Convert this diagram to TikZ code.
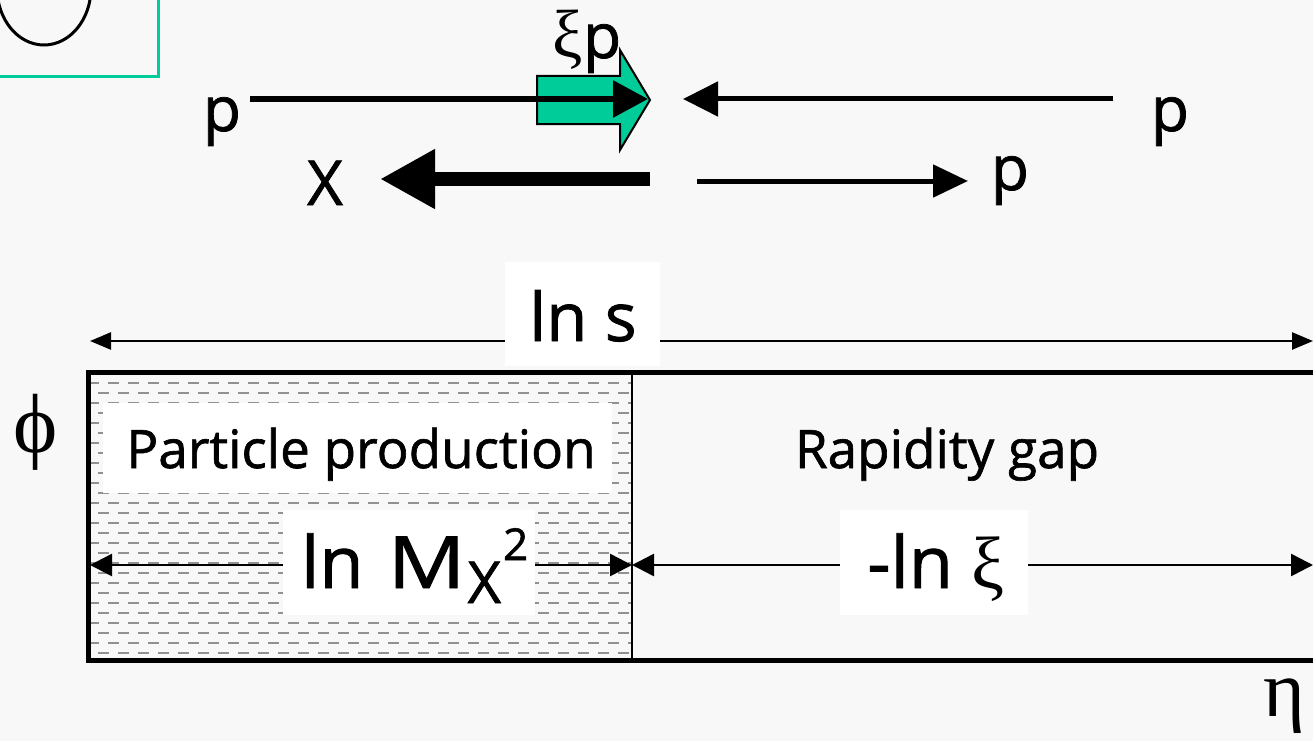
\documentclass[tikz,border=0pt]{standalone}
\usepackage{fontspec}
\usepackage{graphicx}
\setmainfont{Open Sans}[FakeBold=1.2]
\newfontfamily\grk{Liberation Serif}
\usetikzlibrary{arrows.meta}
\definecolor{bg}{RGB}{248,248,248}
\definecolor{tealc}{RGB}{0,204,153}
\definecolor{dashg}{RGB}{145,145,145}
\tikzset{
  lbl/.style={inner sep=0pt, font=\fontsize{53}{53}\selectfont},
  big/.style={inner sep=0pt, font=\fontsize{62}{62}\selectfont},
  huge/.style={inner sep=0pt, font=\fontsize{72}{72}\selectfont},
  whitebox/.style={fill=white, inner sep=0pt},
  thinarr/.style={line width=2.5pt, {Triangle[length=21pt,width=17pt]}-{Triangle[length=21pt,width=17pt]}},
  midarr/.style={line width=2.5pt, {Triangle[length=22pt,width=22pt]}-{Triangle[length=22pt,width=22pt]}},
}
\begin{document}
\begin{tikzpicture}[x=1pt,y=-1pt]
\fill[bg] (0,0) rectangle (1313,741);
\useasboundingbox (0,0) rectangle (1313,741);

% top-left partial box
\draw[tealc, line width=3pt] (-10,-10) rectangle (158,77);
\draw[line width=3pt] (44,-12) ellipse [x radius=47, y radius=57];

% top arrows
\coordinate (pLend) at (250,99);
\coordinate (tipA) at (648,99);
\fill[tealc, draw=black, line width=2pt] (537,76) -- (620,76) -- (620,50) -- (650,100) -- (620,150) -- (620,124) -- (537,124) -- cycle;
\draw[line width=6pt, -{Triangle[length=35pt,width=36pt]}] (pLend) -- (tipA);
\coordinate (rStart) at (1113,99);
\coordinate (rTip) at (683,99);
\draw[line width=5pt, -{Triangle[length=35pt,width=34pt]}] (rStart) -- (rTip);
\coordinate (xStart) at (650,179);
\coordinate (xTip) at (380,179);
\draw[line width=14pt, -{Triangle[length=55pt,width=56pt]}] (xStart) -- (xTip);
\coordinate (pStart) at (697,181);
\coordinate (pTip) at (968,181);
\draw[line width=5pt, -{Triangle[length=35pt,width=32pt]}] (pStart) -- (pTip);

\node[big, anchor=base] (pL) at (222,131) {p};
\node[big, anchor=base] (pR) at (1170,131) {p};
\node[big, anchor=base] (X) at (325,205) {X};
\node[big, anchor=base] (pM) at (1010,190) {p};
\node[big, anchor=base] (xip) at (587,58) {{\grk\fontsize{68}{68}\selectfont ξ}p};

% ln s arrow
\coordinate (lsL) at (90,341);
\coordinate (lsR) at (1313,341);
\draw[thinarr] (lsL) -- (lsR);
\node[whitebox, minimum width=155pt, minimum height=104pt] (lnsbox) at (582,314) {};
\node[inner sep=0pt, font=\fontsize{67}{67}\selectfont, anchor=base] (lns) at (583,341) {ln s};

% pattern in left region
\begin{scope}
\clip (90,374) rectangle (631,658);
\foreach \i in {0,...,27} {
  \pgfmathsetmacro{\yy}{383+10*\i}
  \pgfmathsetmacro{\ph}{mod(\i,2)*10}
  \draw[dashg, line width=2.5pt, dash pattern=on 11pt off 9pt, dash phase=\ph pt] (88,\yy) -- (640,\yy);
}
\end{scope}

% main rectangle
\draw[line width=5pt] (88,372) rectangle (1325,660);
\draw[line width=2pt] (632,372) -- (632,660);

% inner arrows
\coordinate (mL) at (90,565);
\coordinate (mM) at (632,565);
\coordinate (mR) at (1313,565);
\draw[midarr] (mL) -- (mM);
\draw[midarr] (mM) -- (mR);

\node[whitebox, minimum width=509pt, minimum height=90pt] (ppbox) at (357,448) {};
\node[lbl, anchor=base] (pp) at (361,468) {Particle production};
\node[lbl, anchor=base] (rg) at (947,468) {Rapidity gap};

\node[whitebox, minimum width=252pt, minimum height=105pt] (mxbox) at (409,562) {};
\node[huge, anchor=base west] (mx) at (301,588) {ln\hspace{24pt}\scalebox{1.2}[1]{M}\hspace{2pt}\raisebox{-15pt}{\fontsize{58}{58}\selectfont X}\hspace{2pt}\raisebox{28pt}{\fontsize{44}{44}\selectfont 2}};

\node[whitebox, minimum width=188pt, minimum height=105pt] (xibox) at (934,562) {};
\node[huge, anchor=base] (lnxi) at (936,588) {-ln {\grk\fontsize{74}{74}\selectfont ξ}};

\node[inner sep=0pt, font=\fontsize{84}{84}\grk, anchor=base] (phi) at (36,452) {ϕ};
\node[inner sep=0pt, font=\fontsize{80}{80}\grk, anchor=base] (eta) at (1284,716) {η};
\end{tikzpicture}
\end{document}
